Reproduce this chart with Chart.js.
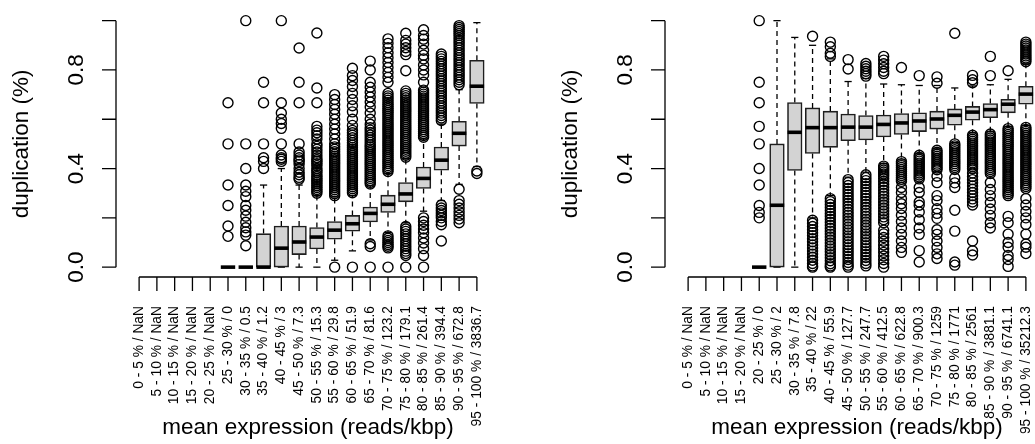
<!DOCTYPE html>
<html>
<head>
<meta charset="utf-8">
<script src="https://cdn.jsdelivr.net/npm/chart.js@4.4.1/dist/chart.umd.min.js"></script>
<style>
  html, body { margin: 0; padding: 0; background: #fff; }
  #wrap { position: relative; width: 1035px; height: 444px; overflow: hidden; background: #fff; }
  .panel { position: absolute; top: 0; width: 549px; height: 444px; }
  #leftPanel { left: 0; }
  #rightPanel { left: 549px; }
</style>
</head>
<body>
<div id="wrap">
  <div class="panel" id="leftPanel"><canvas id="leftChart" width="549" height="444"></canvas></div>
  <div class="panel" id="rightPanel"><canvas id="rightChart" width="549" height="444"></canvas></div>
</div>
<script>
// Classes (GC % / expression moyenne) pour chaque panneau
const leftCategories = [
  "0 - 5 % / NaN", "5 - 10 % / NaN", "10 - 15 % / NaN", "15 - 20 % / NaN", "20 - 25 % / NaN",
  "25 - 30 % / 0", "30 - 35 % / 0.5", "35 - 40 % / 1.2", "40 - 45 % / 3", "45 - 50 % / 7.3",
  "50 - 55 % / 15.3", "55 - 60 % / 29.8", "60 - 65 % / 51.9", "65 - 70 % / 81.6", "70 - 75 % / 123.2",
  "75 - 80 % / 179.1", "80 - 85 % / 261.4", "85 - 90 % / 394.4", "90 - 95 % / 672.8", "95 - 100 % / 3836.7"
];
const rightCategories = [
  "0 - 5 % / NaN", "5 - 10 % / NaN", "10 - 15 % / NaN", "15 - 20 % / NaN", "20 - 25 % / 0",
  "25 - 30 % / 2", "30 - 35 % / 7.8", "35 - 40 % / 22", "40 - 45 % / 55.9", "45 - 50 % / 127.7",
  "50 - 55 % / 247.7", "55 - 60 % / 412.5", "60 - 65 % / 622.8", "65 - 70 % / 900.3", "70 - 75 % / 1259",
  "75 - 80 % / 1771", "80 - 85 % / 2561", "85 - 90 % / 3881.1", "90 - 95 % / 6741.1", "95 - 100 % / 35212.3"
];

// [moustache basse, Q1, médiane, Q3, moustache haute] ; null = classe vide
const leftBoxStats = [
  null, null, null, null, null,
  [0, 0, 0, 0, 0],
  [0, 0, 0, 0, 0],
  [0, 0, 0, 0.136, 0.333],
  [0, 0, 0.077, 0.167, 0.4],
  [0, 0.051, 0.102, 0.167, 0.333],
  [0, 0.074, 0.122, 0.161, 0.29],
  [0.028, 0.113, 0.15, 0.185, 0.285],
  [0.066, 0.146, 0.176, 0.21, 0.29],
  [0.11, 0.183, 0.218, 0.244, 0.33],
  [0.14, 0.222, 0.255, 0.292, 0.38],
  [0.18, 0.265, 0.297, 0.343, 0.44],
  [0.227, 0.319, 0.36, 0.406, 0.52],
  [0.27, 0.393, 0.434, 0.487, 0.58],
  [0.336, 0.491, 0.543, 0.592, 0.72],
  [0.408, 0.664, 0.734, 0.839, 0.992]
];
const rightBoxStats = [
  null, null, null, null,
  [0, 0, 0, 0, 0],
  [0, 0, 0.251, 0.5, 1],
  [0, 0.392, 0.547, 0.668, 0.932],
  [0.2, 0.461, 0.566, 0.646, 0.9],
  [0.29, 0.486, 0.566, 0.633, 0.845],
  [0.365, 0.513, 0.568, 0.621, 0.753],
  [0.385, 0.516, 0.568, 0.615, 0.765],
  [0.42, 0.528, 0.579, 0.617, 0.743],
  [0.435, 0.538, 0.585, 0.623, 0.74],
  [0.46, 0.55, 0.593, 0.626, 0.737],
  [0.48, 0.56, 0.601, 0.633, 0.737],
  [0.505, 0.576, 0.616, 0.642, 0.727],
  [0.545, 0.596, 0.629, 0.652, 0.735],
  [0.55, 0.606, 0.639, 0.664, 0.74],
  [0.57, 0.626, 0.661, 0.681, 0.762],
  [0.575, 0.661, 0.702, 0.734, 0.825]
];

// Valeurs extrêmes (points isolés) par classe
const leftOutliers = [
  [], [], [], [], [],
  [0.667, 0.5, 0.333, 0.25, 0.167, 0.125],
  [1, 0.5, 0.4, 0.333, 0.308, 0.286, 0.25, 0.231, 0.207, 0.182, 0.16, 0.143, 0.13, 0.087],
  [0.75, 0.667, 0.5, 0.444, 0.429, 0.4],
  [1, 0.667, 0.625, 0.6, 0.583, 0.563, 0.5, 0.455, 0.444, 0.438, 0.429],
  [0.889, 0.75, 0.667, 0.5, 0.467, 0.455, 0.444, 0.435, 0.429, 0.417, 0.4, 0.385, 0.375, 0.364, 0.357],
  [0.95, 0.727, 0.667, 0.571, 0.556, 0.545, 0.533, 0.52, 0.5, 0.49, 0.478, 0.467, 0.455, 0.444, 0.435,
   0.429, 0.42, 0.412, 0.4, 0.392, 0.385, 0.375, 0.368, 0.36, 0.353, 0.345, 0.338, 0.33, 0.323, 0.315,
   0.308, 0.3],
  [0.7, 0.68, 0.66, 0.64, 0.62, 0.6, 0.58, 0.56, 0.54, 0.52, 0.5, 0.488, 0.478, 0.468, 0.458, 0.45,
   0.442, 0.434, 0.426, 0.418, 0.41, 0.402, 0.394, 0.386, 0.378, 0.37, 0.362, 0.354, 0.346, 0.338,
   0.33, 0.322, 0.314, 0.306, 0.298, 0.29, 0],
  [0.807, 0.777, 0.757, 0.733, 0.705, 0.68, 0.655, 0.63, 0.6, 0.575, 0.555, 0.545, 0.535, 0.525,
   0.515, 0.505, 0.495, 0.486, 0.478, 0.47, 0.462, 0.454, 0.446, 0.438, 0.43, 0.422, 0.414, 0.406,
   0.398, 0.39, 0.382, 0.374, 0.366, 0.358, 0.35, 0.342, 0.334, 0.326, 0.318, 0.31, 0.302, 0],
  [0.836, 0.8, 0.75, 0.73, 0.71, 0.69, 0.67, 0.65, 0.625, 0.6, 0.58, 0.566, 0.556, 0.546, 0.536,
   0.526, 0.516, 0.506, 0.496, 0.488, 0.48, 0.472, 0.464, 0.456, 0.448, 0.44, 0.432, 0.424, 0.416,
   0.408, 0.4, 0.392, 0.384, 0.376, 0.368, 0.36, 0.352, 0.344, 0.337, 0.095, 0.084, 0],
  [0.926, 0.908, 0.89, 0.87, 0.85, 0.83, 0.81, 0.79, 0.77, 0.75, 0.705, 0.695, 0.686, 0.677, 0.668,
   0.66, 0.652, 0.644, 0.636, 0.628, 0.62, 0.612, 0.604, 0.596, 0.588, 0.58, 0.572, 0.564, 0.556,
   0.548, 0.54, 0.532, 0.524, 0.516, 0.508, 0.5, 0.492, 0.484, 0.476, 0.468, 0.46, 0.452, 0.444,
   0.436, 0.428, 0.42, 0.412, 0.404, 0.396, 0.388,
   0.127, 0.117, 0.108, 0.1, 0.092, 0.085, 0.078, 0],
  [0.949, 0.92, 0.905, 0.89, 0.875, 0.862, 0.797, 0.715, 0.705, 0.696, 0.687, 0.678, 0.67, 0.662,
   0.654, 0.646, 0.638, 0.63, 0.622, 0.614, 0.606, 0.598, 0.59, 0.582, 0.574, 0.566, 0.558, 0.55,
   0.542, 0.534, 0.526, 0.518, 0.51, 0.502, 0.494, 0.486, 0.478, 0.47, 0.462, 0.454, 0.446,
   0.165, 0.155, 0.145, 0.135, 0.125, 0.115, 0.105, 0.095, 0.085, 0.075, 0.065, 0.055, 0.047, 0],
  [0.963, 0.94, 0.925, 0.905, 0.88, 0.86, 0.845, 0.82, 0.8, 0.78, 0.75, 0.718, 0.71, 0.702, 0.694,
   0.686, 0.678, 0.67, 0.662, 0.654, 0.646, 0.638, 0.63, 0.622, 0.614, 0.606, 0.598, 0.59, 0.582,
   0.574, 0.566, 0.558, 0.55, 0.542, 0.534, 0.527,
   0.2, 0.185, 0.17, 0.155, 0.14, 0.118, 0.098, 0.075, 0.047, 0],
  [0.865, 0.855, 0.845, 0.835, 0.825, 0.815, 0.805, 0.795, 0.785, 0.775, 0.765, 0.755, 0.745, 0.735,
   0.725, 0.715, 0.705, 0.695, 0.685, 0.675, 0.665, 0.655, 0.645, 0.635, 0.625, 0.615, 0.605, 0.595,
   0.252, 0.24, 0.23, 0.22, 0.21, 0.2, 0.185, 0.172, 0.106],
  [0.98, 0.972, 0.964, 0.956, 0.948, 0.94, 0.93, 0.92, 0.91, 0.9, 0.89, 0.88, 0.87, 0.86, 0.85, 0.84,
   0.83, 0.82, 0.81, 0.8, 0.79, 0.78, 0.77, 0.76, 0.75, 0.74,
   0.316, 0.27, 0.255, 0.24, 0.225, 0.21, 0.195, 0.18],
  [0.39, 0.38]
];
const rightOutliers = [
  [], [], [], [],
  [1, 0.75, 0.667, 0.571, 0.5, 0.4, 0.333, 0.25, 0.222, 0.2],
  [],
  [],
  [0.937, 0.19, 0.178, 0.165, 0.152, 0.14, 0.128, 0.115, 0.103, 0.09, 0.078, 0.065, 0.053, 0.04,
   0.028, 0.015, 0.005, 0],
  [0.913, 0.894, 0.868, 0.855, 0.278, 0.266, 0.254, 0.242, 0.23, 0.218, 0.206, 0.194, 0.182, 0.17,
   0.158, 0.146, 0.134, 0.122, 0.11, 0.098, 0.086, 0.074, 0.062, 0.05, 0.038, 0.026, 0.014, 0.005, 0],
  [0.842, 0.804, 0.355, 0.343, 0.331, 0.319, 0.307, 0.295, 0.283, 0.271, 0.259, 0.247, 0.235, 0.223,
   0.211, 0.199, 0.187, 0.175, 0.163, 0.151, 0.139, 0.127, 0.115, 0.103, 0.091, 0.079, 0.067, 0.055,
   0.043, 0.031, 0.019, 0.008, 0],
  [0.826, 0.815, 0.805, 0.795, 0.785, 0.775, 0.375, 0.363, 0.351, 0.339, 0.327, 0.315, 0.303, 0.291,
   0.279, 0.267, 0.255, 0.243, 0.231, 0.219, 0.207, 0.195, 0.183, 0.171, 0.159, 0.147, 0.135, 0.123,
   0.111, 0.099, 0.087, 0.075, 0.063, 0.051, 0.039, 0.027, 0.015, 0.005],
  [0.855, 0.84, 0.825, 0.81, 0.795, 0.785, 0.41, 0.402, 0.394, 0.386, 0.378, 0.37, 0.36, 0.348,
   0.336, 0.324, 0.312, 0.3, 0.288, 0.276, 0.264, 0.252, 0.24, 0.228, 0.216, 0.204, 0.192, 0.18,
   0.15, 0.135, 0.12, 0.105, 0.09, 0.075, 0.06, 0.045, 0.03, 0.015, 0],
  [0.81, 0.428, 0.42, 0.412, 0.404, 0.396, 0.388, 0.38, 0.372, 0.364, 0.356, 0.348, 0.323, 0.303,
   0.277, 0.257, 0.238, 0.211, 0.185, 0.159, 0.133, 0.106, 0.08, 0.06],
  [0.777, 0.454, 0.446, 0.438, 0.43, 0.422, 0.414, 0.406, 0.398, 0.39, 0.382, 0.374, 0.366, 0.358,
   0.323, 0.303, 0.264, 0.251, 0.224, 0.192, 0.159, 0.133, 0.067, 0.021],
  [0.772, 0.746, 0.474, 0.466, 0.458, 0.45, 0.442, 0.434, 0.426, 0.418, 0.41, 0.402, 0.395, 0.369,
   0.343, 0.29, 0.27, 0.237, 0.218, 0.198, 0.152, 0.133, 0.106, 0.08, 0.054, 0.035],
  [0.949, 0.5, 0.492, 0.484, 0.476, 0.468, 0.46, 0.452, 0.444, 0.436, 0.428, 0.42, 0.412, 0.404,
   0.396, 0.362, 0.342, 0.323, 0.231, 0.146, 0.021, 0.008],
  [0.778, 0.76, 0.748, 0.535, 0.527, 0.519, 0.511, 0.503, 0.495, 0.487, 0.479, 0.471, 0.463, 0.455,
   0.447, 0.439, 0.431, 0.423, 0.415, 0.407, 0.399, 0.382, 0.368, 0.355, 0.342, 0.329, 0.316, 0.303,
   0.29, 0.277, 0.264, 0.252, 0.106, 0.066, 0.049],
  [0.855, 0.777, 0.54, 0.532, 0.524, 0.516, 0.508, 0.5, 0.492, 0.484, 0.476, 0.468, 0.46, 0.452,
   0.444, 0.436, 0.428, 0.42, 0.412, 0.404, 0.396, 0.388, 0.38, 0.343, 0.315, 0.29, 0.262, 0.236,
   0.21, 0.18, 0.159],
  [0.797, 0.562, 0.554, 0.546, 0.538, 0.53, 0.522, 0.514, 0.506, 0.498, 0.49, 0.482, 0.474, 0.466,
   0.458, 0.45, 0.442, 0.434, 0.426, 0.418, 0.41, 0.402, 0.394, 0.386, 0.378, 0.37, 0.362, 0.354,
   0.346, 0.338, 0.33, 0.322, 0.314, 0.306, 0.298, 0.29, 0.206, 0.18, 0.134, 0.1, 0.081, 0.047,
   0.031, 0.003],
  [0.913, 0.905, 0.897, 0.889, 0.881, 0.873, 0.865, 0.857, 0.849, 0.841, 0.833,
   0.567, 0.559, 0.551, 0.543, 0.535, 0.527, 0.519, 0.511, 0.503, 0.495, 0.487, 0.479, 0.471, 0.463,
   0.455, 0.447, 0.439, 0.431, 0.423, 0.415, 0.407, 0.399, 0.391, 0.383, 0.375, 0.367, 0.359, 0.351,
   0.343, 0.335, 0.327, 0.319, 0.278, 0.252, 0.226, 0.2, 0.173, 0.134, 0.094, 0.081, 0.055]
];

// Graduations de l'axe vertical (seules certaines sont étiquetées)
const yTickValues = [0, 0.2, 0.4, 0.6, 0.8, 1];
const yTickLabels = ["0.0", "", "0.4", "", "0.8", ""];
const yTitle = "duplication (%)";
const xTitle = "mean expression (reads/kbp)";

const FONT = "'Liberation Sans', Arial, Helvetica, sans-serif";
const TICK_LEN = 14;

/** Axes façon R : traits limités aux graduations, libellés tournés. */
const baseAxes = {
  id: "baseAxes",
  afterDraw(chart, _args, opts) {
    const { ctx, chartArea } = chart;
    const xs = chart.scales.x;
    const ys = chart.scales.y;
    const axisX = chartArea.left;
    const axisY = chartArea.bottom;
    const cats = opts.categories || [];

    ctx.save();
    ctx.strokeStyle = "#000";
    ctx.fillStyle = "#000";
    ctx.lineWidth = 1.3;

    // axe Y
    const yTop = ys.getPixelForValue(yTickValues[yTickValues.length - 1]);
    const yBottom = ys.getPixelForValue(yTickValues[0]);
    ctx.beginPath();
    ctx.moveTo(axisX, yTop);
    ctx.lineTo(axisX, yBottom);
    yTickValues.forEach((v) => {
      const py = ys.getPixelForValue(v);
      ctx.moveTo(axisX - TICK_LEN, py);
      ctx.lineTo(axisX, py);
    });
    ctx.stroke();

    ctx.font = "22.5px " + FONT;
    ctx.textAlign = "center";
    ctx.textBaseline = "alphabetic";
    yTickValues.forEach((v, i) => {
      if (!yTickLabels[i]) return;
      ctx.save();
      ctx.translate(axisX - 33, ys.getPixelForValue(v));
      ctx.rotate(-Math.PI / 2);
      ctx.fillText(yTickLabels[i], 0, 0);
      ctx.restore();
    });

    ctx.save();
    ctx.translate(axisX - 88, (chartArea.top + chartArea.bottom) / 2);
    ctx.rotate(-Math.PI / 2);
    ctx.fillText(yTitle, 0, 0);
    ctx.restore();

    // axe X
    const xFirst = xs.getPixelForValue(1);
    const xLast = xs.getPixelForValue(cats.length);
    ctx.beginPath();
    ctx.moveTo(xFirst, axisY);
    ctx.lineTo(xLast, axisY);
    cats.forEach((_, i) => {
      const px = xs.getPixelForValue(i + 1);
      ctx.moveTo(px, axisY);
      ctx.lineTo(px, axisY + TICK_LEN);
    });
    ctx.stroke();

    ctx.font = "13.8px " + FONT;
    ctx.textAlign = "right";
    ctx.textBaseline = "middle";
    cats.forEach((label, i) => {
      ctx.save();
      ctx.translate(xs.getPixelForValue(i + 1), axisY + 29);
      ctx.rotate(-Math.PI / 2);
      ctx.fillText(label, 0, 0);
      ctx.restore();
    });

    ctx.font = "22.5px " + FONT;
    ctx.textAlign = "center";
    ctx.textBaseline = "alphabetic";
    ctx.fillText(xTitle, (chartArea.left + chartArea.right) / 2, axisY + 157);

    ctx.restore();
  },
};

function boxplotDatasets(stats, outliers) {
  const boxes = [];
  const medians = [];
  const whiskers = [];
  const staples = [];
  const points = [];

  stats.forEach((s, i) => {
    const x = i + 1;
    if (s) {
      const [lo, q1, med, q3, hi] = s;
      boxes.push({ x, y: [q1, q3] });
      medians.push({ x, y: med });
      whiskers.push({ x, y: q3 }, { x, y: hi }, { x, y: null });
      whiskers.push({ x, y: q1 }, { x, y: lo }, { x, y: null });
      staples.push({ x, y: hi }, { x, y: lo });
    }
    outliers[i].forEach((v) => points.push({ x, y: v }));
  });

  return [
    {
      type: "bar",
      data: boxes,
      backgroundColor: "#d3d3d3",
      borderColor: "#1e1e1e",
      borderWidth: 1.6,
      borderSkipped: false,
      barThickness: 14.6,
      clip: false,
      order: 2,
    },
    {
      type: "scatter",
      data: medians,
      pointStyle: "line",
      pointRadius: 7.2,
      pointBorderWidth: 3.6,
      pointBorderColor: "#000",
      clip: false,
      order: 1,
    },
    {
      type: "line",
      data: whiskers,
      borderColor: "#000",
      borderWidth: 1.3,
      borderDash: [5, 4],
      pointRadius: 0,
      spanGaps: false,
      tension: 0,
      clip: false,
      order: 4,
    },
    {
      type: "scatter",
      data: staples,
      pointStyle: "line",
      pointRadius: 3.6,
      pointBorderWidth: 1.3,
      pointBorderColor: "#000",
      clip: false,
      order: 3,
    },
    {
      type: "scatter",
      data: points,
      pointStyle: "circle",
      pointRadius: 5,
      pointBorderWidth: 1.4,
      pointBorderColor: "#000",
      pointBackgroundColor: "rgba(0,0,0,0)",
      clip: false,
      order: 5,
    },
  ];
}

function buildPanel(canvasId, categories, stats, outliers) {
  const canvas = document.getElementById(canvasId);
  if (!canvas) return null;
  return new Chart(canvas, {
    type: "bar",
    data: { datasets: boxplotDatasets(stats, outliers) },
    options: {
      responsive: false,
      animation: false,
      devicePixelRatio: 1,
      events: [],
      layout: { padding: { left: 116, right: 49, top: 3, bottom: 167 } },
      scales: {
        x: { type: "linear", min: -0.3, max: categories.length + 1.3, offset: false, display: false },
        y: { type: "linear", min: -0.04, max: 1.04, display: false },
      },
      plugins: {
        legend: { display: false },
        tooltip: { enabled: false },
        baseAxes: { categories },
      },
    },
    plugins: [baseAxes],
  });
}

buildPanel("leftChart", leftCategories, leftBoxStats, leftOutliers);
buildPanel("rightChart", rightCategories, rightBoxStats, rightOutliers);
</script>
</body>
</html>
